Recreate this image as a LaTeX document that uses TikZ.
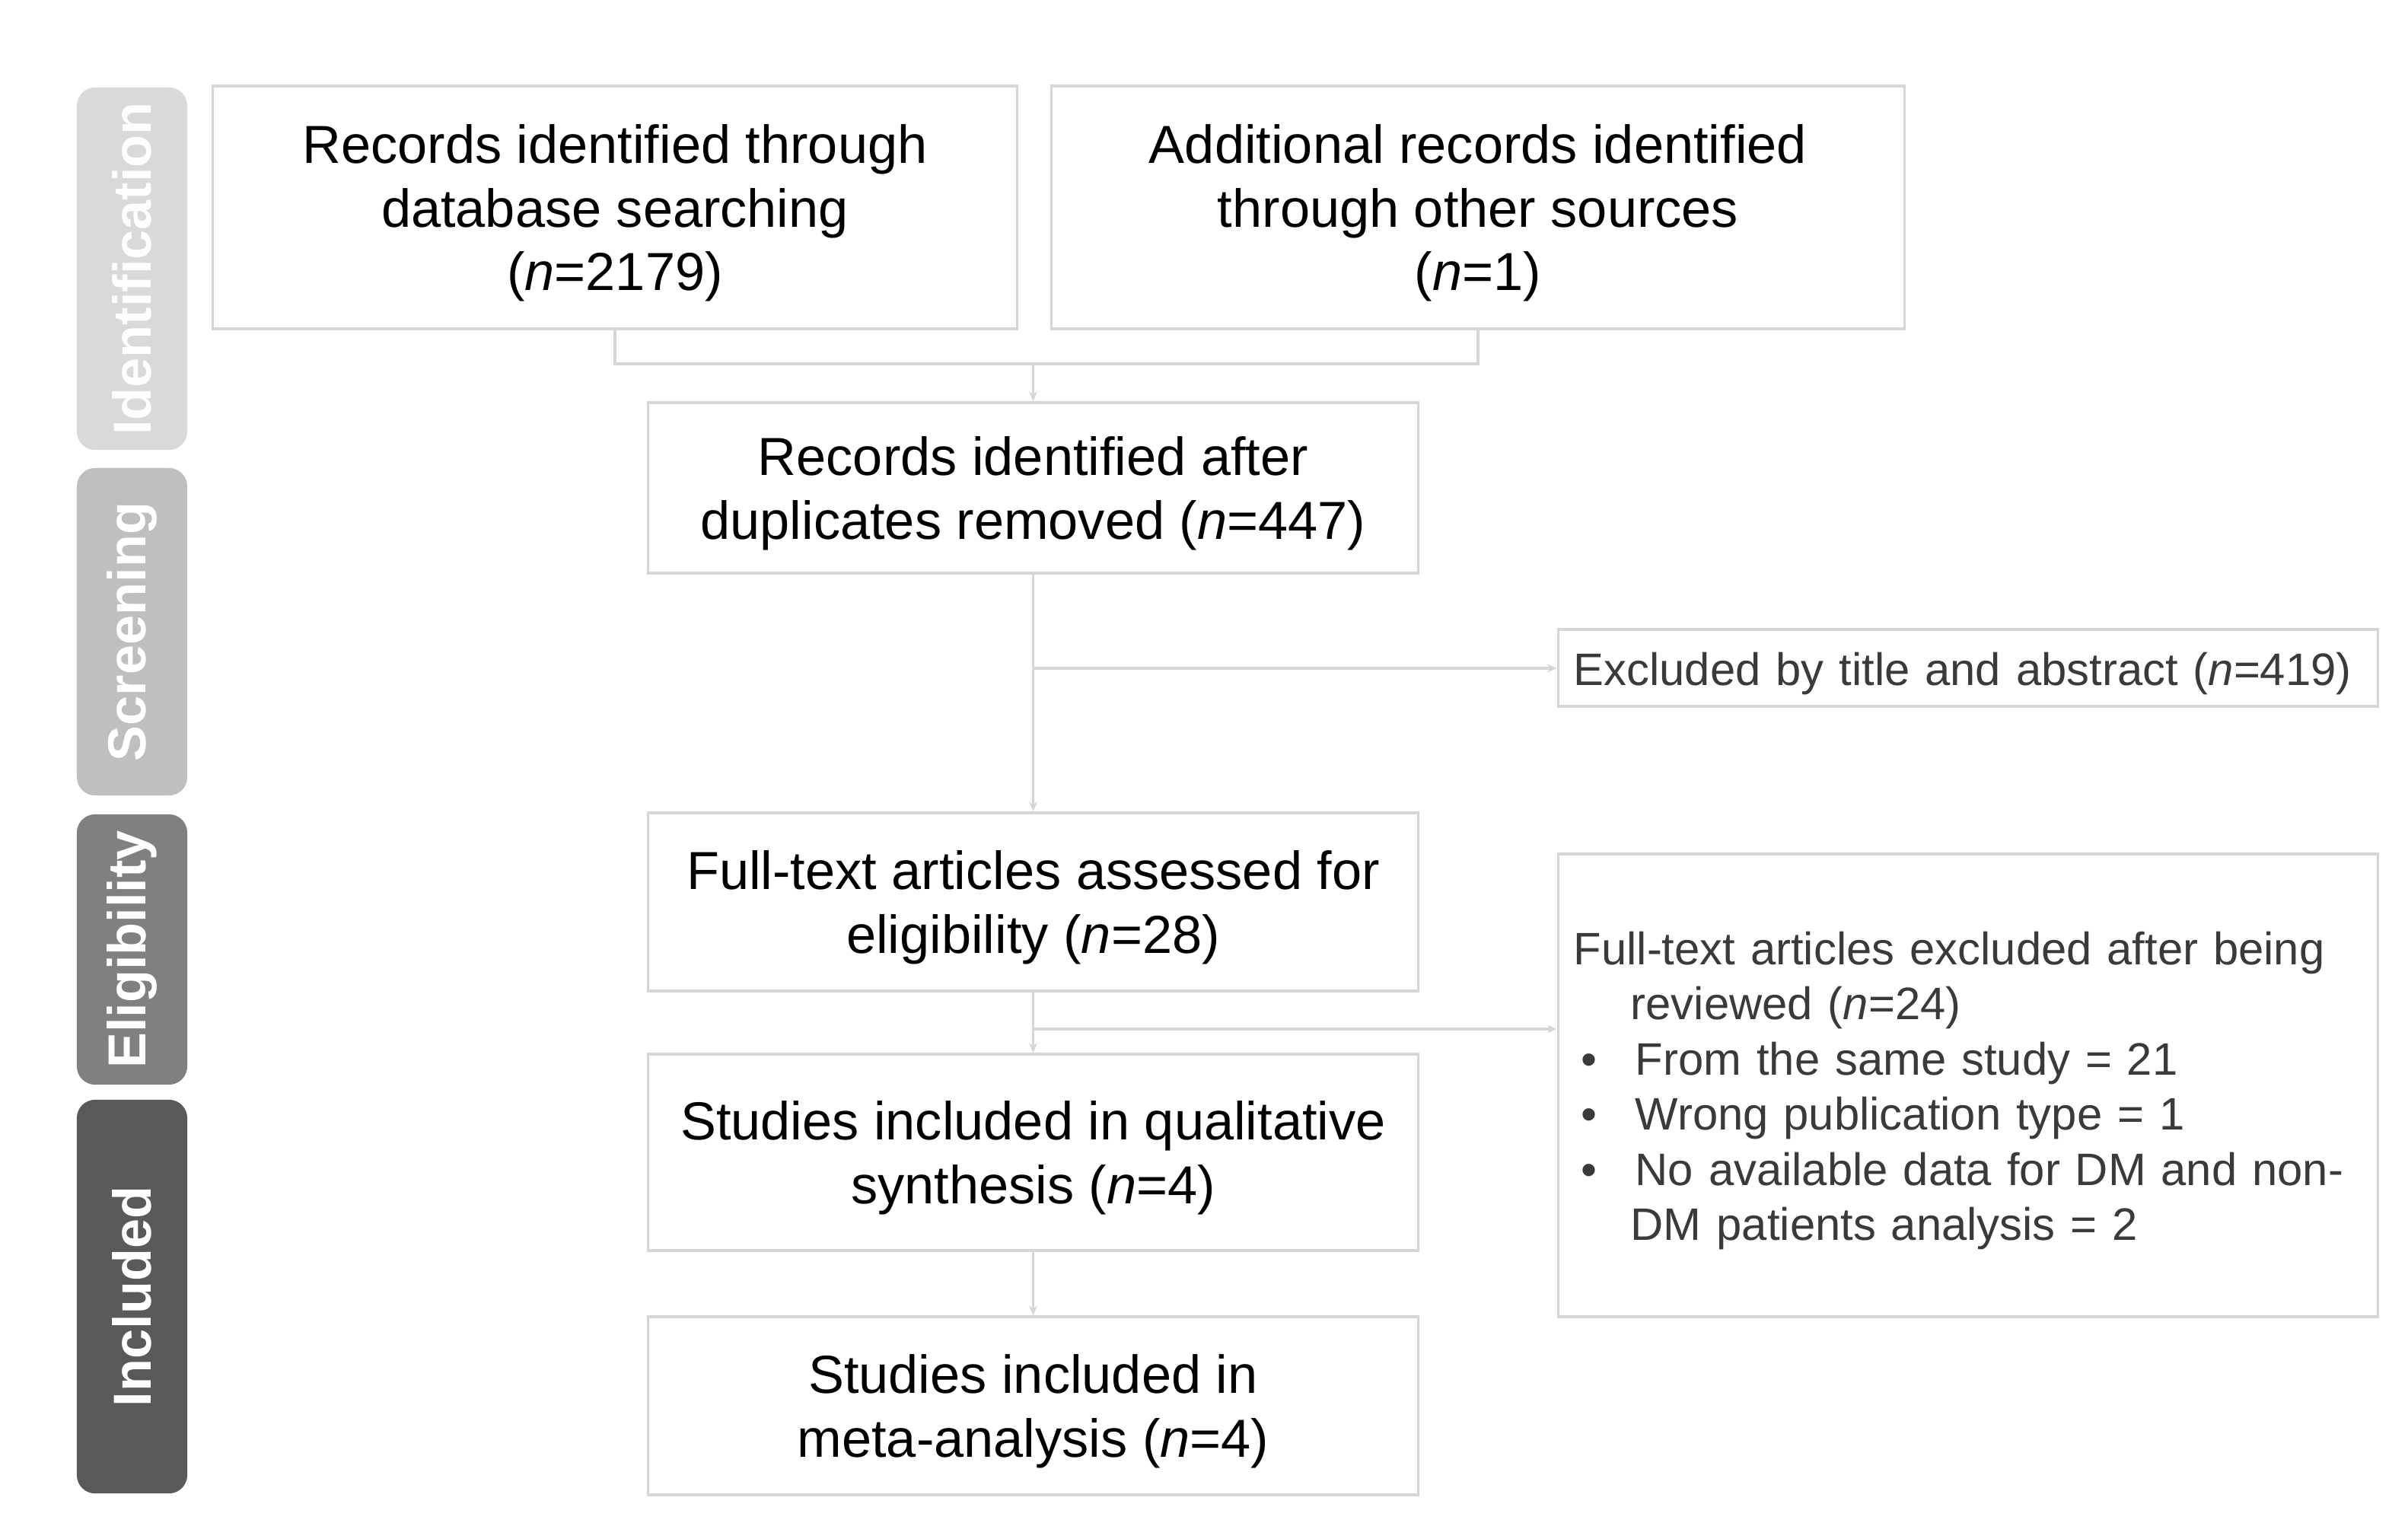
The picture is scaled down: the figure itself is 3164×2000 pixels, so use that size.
\documentclass[tikz,border=0pt]{standalone}
\usepackage{fontspec}
\setmainfont{Liberation Sans}
\usetikzlibrary{arrows.meta}
\definecolor{linegray}{HTML}{D6D6D6}
\definecolor{phaseA}{HTML}{D9D9D9}
\definecolor{phaseB}{HTML}{BFBFBF}
\definecolor{phaseC}{HTML}{808080}
\definecolor{phaseD}{HTML}{595959}
\definecolor{extext}{HTML}{3A3A3A}
\newcommand\lowc[1]{\raisebox{-0.09cm}[\height][\depth]{\begin{tabular}{@{}c@{}}#1\end{tabular}}}
\newcommand\lowl[1]{\raisebox{-0.08cm}[\height][\depth]{\begin{tabular}{@{}l@{}}#1\end{tabular}}}
\begin{document}
\begin{tikzpicture}[x=0.01cm,y=-0.01cm,
  mainbox/.style={draw=linegray,line width=1pt,fill=white,align=center,inner sep=0pt,
    font=\fontsize{20}{23.8}\selectfont,text=black},
  exbox/.style={draw=linegray,line width=1pt,fill=white,align=left,inner xsep=0.2cm,inner ysep=0pt,
    text width=10.36cm,font=\fontsize{17}{20.6}\selectfont,text=extext},
  phase/.style={fill=#1,rounded corners=0.24cm,inner sep=0pt,text=white,
    font=\fontsize{20}{24}\selectfont\bfseries,rotate=90},
  conn/.style={draw=linegray,line width=1pt},
  arr/.style={conn,-{Stealth[length=1.3mm,width=1.1mm]}}]
\useasboundingbox (0,0) rectangle (3164,2000);
% phase bars
\node[phase=phaseA,minimum width=4.76cm,minimum height=1.45cm,text=white!95!phaseA] (pI) at (173.5,353) {Identification};
\node[phase=phaseB,minimum width=4.30cm,minimum height=1.45cm] (pS) at (173.5,830) {Screening};
\node[phase=phaseC,minimum width=3.55cm,minimum height=1.45cm] (pE) at (173.5,1247.5) {Eligibility};
\node[phase=phaseD,minimum width=5.17cm,minimum height=1.45cm] (pN) at (173.5,1703.5) {Included};
% boxes
\node[mainbox,minimum width=10.56cm,minimum height=3.19cm] (b1) at (808,272.5)
  {\lowc{Records identified through\\database searching\\(\textit{n}=2179)}};
\node[mainbox,minimum width=11.20cm,minimum height=3.19cm] (b2) at (1942,272.5)
  {\lowc{Additional records identified\\through other sources\\(\textit{n}=1)}};
\node[mainbox,minimum width=10.11cm,minimum height=2.24cm] (b3) at (1357.5,641)
  {\lowc{Records identified after\\duplicates removed (\textit{n}=447)}};
\node[mainbox,minimum width=10.11cm,minimum height=2.34cm] (b4) at (1357.5,1185)
  {\lowc{Full-text articles assessed for\\eligibility (\textit{n}=28)}};
\node[mainbox,minimum width=10.11cm,minimum height=2.58cm] (b5) at (1357.5,1514)
  {\lowc{Studies included in qualitative\\synthesis (\textit{n}=4)}};
\node[mainbox,minimum width=10.11cm,minimum height=2.34cm] (b6) at (1357.5,1847)
  {\lowc{Studies included in\\meta-analysis (\textit{n}=4)}};
\node[exbox,minimum height=1.01cm] (e1) at (2586,877.5)
  {\lowl{Excluded by title and abstract (\textit{n}=419)}};
\node[exbox,minimum height=6.08cm] (e2) at (2586,1426)
  {\lowl{Full-text articles excluded after being\\
   \hspace*{0.75cm}reviewed (\textit{n}=24)\\
   \makebox[0.81cm][l]{\hspace{0.1cm}\textbullet}From the same study = 21\\
   \makebox[0.81cm][l]{\hspace{0.1cm}\textbullet}Wrong publication type = 1\\
   \makebox[0.81cm][l]{\hspace{0.1cm}\textbullet}No available data for DM and non-\\
   \hspace*{0.75cm}DM patients analysis = 2}};
% connectors
\coordinate (j1) at (1357.5,478);
\coordinate (s1) at (1357.5,878);
\coordinate (s2) at (1357.5,1352);
\draw[conn] (b1.south) -- (b1.south |- j1) -| (b2.south);
\draw[arr] (j1) -- (b3.north);
\draw[arr] (b3.south) -- (b4.north);
\draw[arr] (s1) -- (s1 -| e1.west);
\draw[arr] (b4.south) -- (b5.north);
\draw[arr] (s2) -- (s2 -| e2.west);
\draw[arr] (b5.south) -- (b6.north);
\end{tikzpicture}
\end{document}
